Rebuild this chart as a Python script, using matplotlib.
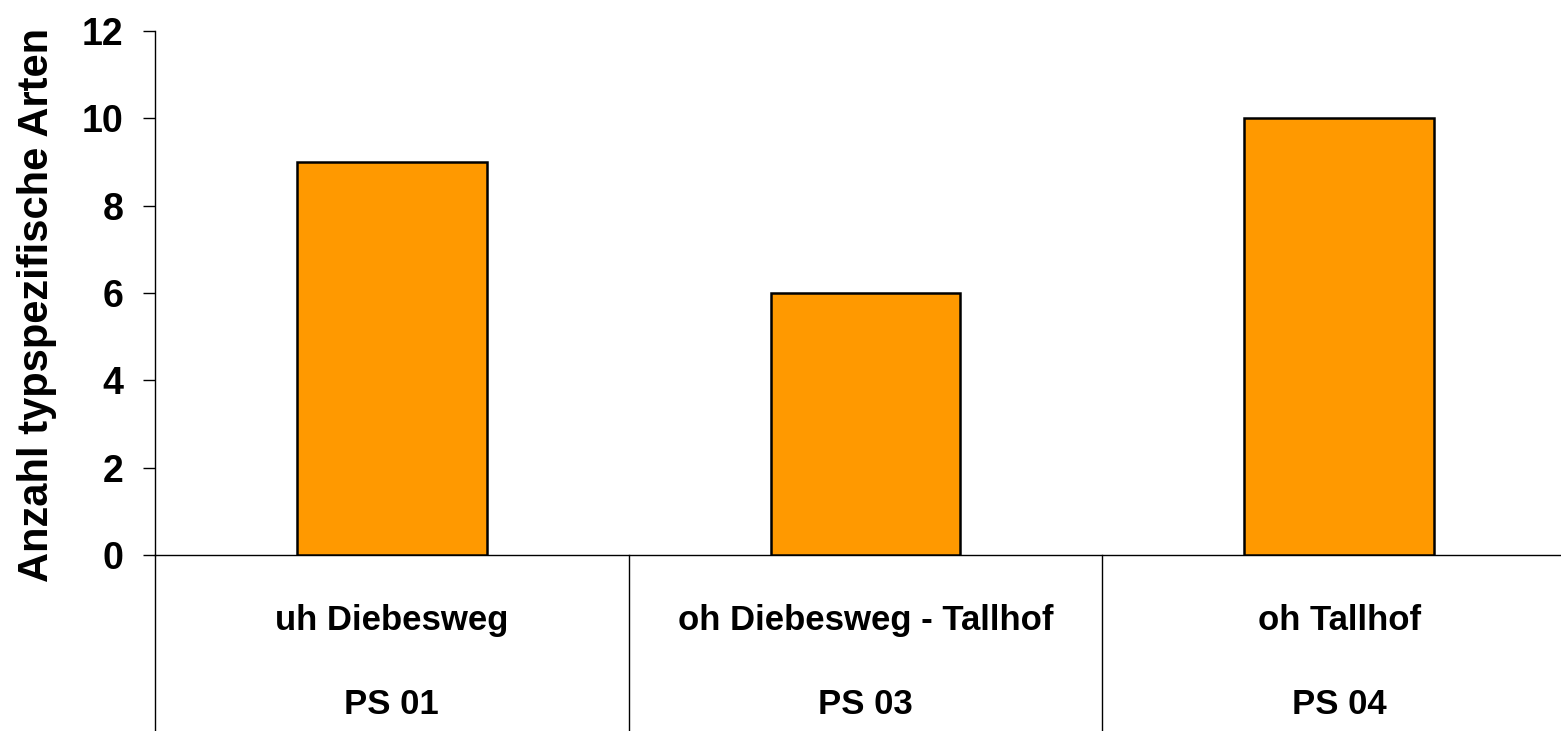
import matplotlib
matplotlib.use("Agg")
import matplotlib.pyplot as plt

# Typical species per sampling site
sites = ["uh Diebesweg", "oh Diebesweg - Tallhof", "oh Tallhof"]
site_codes = ["PS 01", "PS 03", "PS 04"]
species_count = [9, 6, 10]
y_ticks = [0, 2, 4, 6, 8, 10, 12]

plt.rcParams["font.family"] = ["Liberation Sans", "DejaVu Sans"]
plt.rcParams["font.weight"] = "bold"

W, H = 1561, 731
fig = plt.figure(figsize=(W / 100, H / 100), dpi=100)
# axes run a little past the right edge of the figure
ax = fig.add_axes([155 / W, (H - 555) / H, (1576 - 155) / W, (555 - 31) / H])

x = list(range(len(sites)))
ax.bar(x, species_count, width=0.4, color="#FF9900", edgecolor="black",
       linewidth=1.8, zorder=3)

ax.set_xlim(-0.5, len(sites) - 0.5)
ax.set_ylim(0, 12)
ax.set_yticks(y_ticks)
ax.set_yticklabels([str(v) for v in y_ticks], fontsize=27, fontweight="bold")
ax.tick_params(axis="y", length=8.6, width=1, pad=14)
ax.set_xticks([])

for side in ("top", "right", "bottom"):
    ax.spines[side].set_visible(False)
ax.spines["left"].set_linewidth(1)

fig.text(37 / W, (H - 305) / H, "Anzahl typspezifische Arten", rotation=90,
         ha="center", va="center", fontsize=30, fontweight="bold")

# zero line and category separators below the plot
y_bottom = -(H - 555) / ((555 - 31) / 12)
ax.plot([-0.5, len(sites) - 0.5], [0, 0], color="black", lw=1, clip_on=False)
for b in [-0.5] + [i + 0.5 for i in range(len(sites) - 1)]:
    ax.plot([b, b], [0, y_bottom], color="black", lw=1, clip_on=False)

for i, (name, code) in enumerate(zip(sites, site_codes)):
    ax.text(i, -1.5, name, ha="center", va="center", fontsize=25,
            fontweight="bold", clip_on=False)
    ax.text(i, -3.43, code, ha="center", va="center", fontsize=25,
            fontweight="bold", clip_on=False)

fig.savefig("out.png", dpi=100)
